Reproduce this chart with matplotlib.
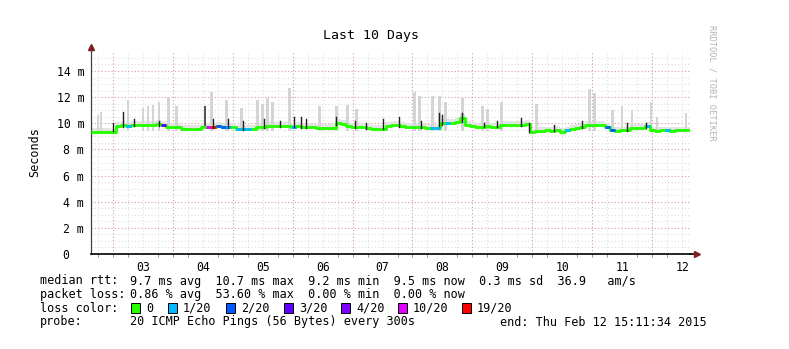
import numpy as np
import matplotlib.pyplot as plt
from matplotlib.patches import Rectangle

W, H = 789, 349
MONO = 'DejaVu Sans Mono'

# time in hours since Mon Feb 02 00:00; graph ends Thu Feb 12 15:11:34 2015
t_end = 240 + 15 + 11 / 60 + 34 / 3600
t_start = t_end - 240
step_h = 2.0

# median rtt (ms), one value every 2 hours
median_ms = [
    9.35, 9.33, 9.35, 9.32, 9.30, 9.82, 9.85, 9.80, 9.85, 9.87,
    9.88, 9.87, 9.85, 9.95, 9.90, 9.74, 9.74, 9.70, 9.60, 9.56,
    9.55, 9.60, 9.70, 9.75, 9.72, 9.78, 9.75, 9.70, 9.72, 9.60,
    9.55, 9.57, 9.60, 9.72, 9.74, 9.78, 9.80, 9.80, 9.78, 9.80,
    9.75, 9.80, 9.74, 9.72, 9.68, 9.62, 9.62, 9.62, 9.63, 10.00,
    9.98, 9.78, 9.75, 9.72, 9.74, 9.65, 9.60, 9.58, 9.60, 9.80,
    9.85, 9.85, 9.78, 9.74, 9.72, 9.72, 9.75, 9.66, 9.62, 9.62,
    10.00, 10.00, 10.05, 10.10, 10.40, 9.85, 9.80, 9.75, 9.74, 9.80,
    9.74, 9.74, 9.86, 9.87, 9.86, 9.88, 9.87, 9.95, 9.30, 9.40,
    9.43, 9.45, 9.42, 9.50, 9.35, 9.45, 9.55, 9.62, 9.70, 9.87,
    9.87, 9.86, 9.87, 9.75, 9.50, 9.43, 9.45, 9.50, 9.62, 9.62,
    9.65, 9.80, 9.45, 9.43, 9.45, 9.45, 9.43, 9.45, 9.45, 9.45,
    9.45,
]
# sample index -> lost pings (of 20)
loss_at = {7: 1, 14: 3, 23: 10, 24: 19, 25: 2, 26: 2, 27: 1, 29: 1, 30: 1,
           31: 1, 40: 1, 68: 1, 69: 1, 71: 1, 95: 1, 103: 2, 104: 2,
           111: 1, 115: 1}

# short median peaks (hours after start, ms)
peak_h = [8.8, 12.8, 17.2, 27.2, 48.8, 54.8, 60.8, 69.2, 75.6, 81.2, 84.0,
          86.0, 98.0, 105.6, 110.0, 116.8, 123.6, 132.4, 139.6, 140.8,
          148.8, 157.6, 162.8, 172.4, 175.6, 185.6, 196.8, 214.8, 222.4]
peak_ms = [10.05, 10.86, 10.3, 10.2, 10.3, 10.36, 10.2, 10.3, 10.2, 10.5,
           10.5, 10.36, 10.5, 10.2, 10.0, 10.3, 10.5, 10.2, 10.8, 10.6,
           10.8, 10.0, 10.2, 10.4, 10.0, 9.9, 10.2, 10.0, 10.0]

# smoke (ping spread) tops (hours after start, ms)
smoke_h = [2.8, 4.0, 14.8, 20.8, 22.8, 24.8, 27.2, 31.2, 34.4, 48.4, 54.4,
           60.4, 66.8, 68.8, 70.8, 72.8, 79.6, 91.6, 98.4, 102.8, 106.4,
           129.6, 131.6, 136.8, 139.6, 142.0, 148.8, 156.8, 158.8, 164.4,
           178.4, 199.6, 201.6, 208.8, 212.8, 216.8, 224.4, 226.8, 238.4]
smoke_ms = [10.6, 10.9, 11.8, 11.2, 11.3, 11.4, 11.6, 12.0, 11.3, 12.4, 11.8,
            11.2, 11.8, 11.5, 11.9, 11.6, 12.7, 11.3, 11.3, 11.4, 11.1,
            12.4, 12.1, 12.1, 12.1, 11.6, 11.9, 11.3, 11.1, 11.6,
            11.5, 12.6, 12.3, 11.0, 11.3, 11.0, 11.6, 10.5, 10.8]

# high-loss burst
burst_h, burst_lo, burst_hi = 45.6, 9.8, 11.3

loss_colors = {0: '#26ff00', 1: '#00b8ff', 2: '#0059ff', 3: '#5e00ff',
               4: '#7e00ff', 10: '#dd00ff', 19: '#ff0000'}
loss_labels = ['0', '1/20', '2/20', '3/20', '4/20', '10/20', '19/20']

y_ticks = [0, 2, 4, 6, 8, 10, 12, 14]
day_labels = ['03', '04', '05', '06', '07', '08', '09', '10', '11', '12']

fig = plt.figure(figsize=(W / 100, H / 100), dpi=100)
x0, x1, y0 = 91, 690, 254
ymax = 15.5
ppm = 13.07
ytop = y0 - ymax * ppm
ax = fig.add_axes([x0 / W, 1 - y0 / H, (x1 - x0) / W, (y0 - ytop) / H])
ax.set_xlim(t_start, t_end)
ax.set_ylim(0, ymax)

# grid
minor_c = '#dedede'
major_c = '#d89a9a'
for v in np.arange(0.5, ymax, 0.5):
    if v % 2:
        ax.axhline(v, color=minor_c, lw=0.8, ls=(0, (1, 2)), zorder=0)
for v in y_ticks[1:]:
    ax.axhline(v, color=major_c, lw=0.8, ls=(0, (1, 2)), zorder=0)
for h in range(18, 258, 6):
    c = major_c if h % 24 == 0 else minor_c
    ax.axvline(h, color=c, lw=0.8, ls=(0, (1, 2)), zorder=0)

t = t_start + step_h * np.arange(len(median_ms))
med = np.array(median_ms)

ax.fill_between(t, med, med + 0.3, step='post', color='#e4e4e4', lw=0, zorder=1)
ax.bar([t_start + h for h in smoke_h], [s - 9.4 for s in smoke_ms], bottom=9.4,
       width=1.1, color='#d4d4d4', lw=0, zorder=1)
ax.bar([t_start + burst_h], [burst_hi - burst_lo], bottom=burst_lo, width=1.0,
       color='#555555', lw=0, zorder=2)

# thin median peaks
base = np.interp([t_start + h for h in peak_h], t, med)
for h, b, p in zip(peak_h, base, peak_ms):
    ax.plot([t_start + h, t_start + h], [b - 0.1, p], color='#202020',
            lw=1.0, zorder=4)

ax.plot(t, med, drawstyle='steps-post', color=loss_colors[0], lw=2.1,
        zorder=3, solid_capstyle='butt')
for i, lv in loss_at.items():
    ax.plot([t[i], t[i] + step_h], [med[i], med[i]], color=loss_colors[lv],
            lw=2.1, zorder=3, solid_capstyle='butt')

# axes
for s in ['top', 'right']:
    ax.spines[s].set_visible(False)
ax.spines['left'].set_color('#404040')
ax.spines['bottom'].set_color('#000000')
ax.spines['left'].set_linewidth(0.9)
ax.spines['bottom'].set_linewidth(1.2)
ax.plot([t_start, t_start], [ymax, 15.75], color='#404040', lw=0.9, clip_on=False)
ax.plot([t_end, t_end + 2.4], [0, 0], color='#000000', lw=1.2, clip_on=False)
ax.plot([t_start], [15.85], marker='^', color='#7f1f1f', ms=4, clip_on=False)
ax.plot([t_end + 2.8], [0], marker='>', color='#7f1f1f', ms=4, clip_on=False)

ax.set_yticks(y_ticks)
ax.set_yticklabels(['0  '] + ['%d m' % v for v in y_ticks[1:]],
                   family=MONO, fontsize=8.3)
ax.set_xticks([36 + 24 * k for k in range(len(day_labels))])
ax.set_xticklabels(day_labels, family=MONO, fontsize=8.3)
ax.set_xticks(range(18, 258, 6), minor=True)
ax.tick_params(axis='both', which='major', length=0, pad=5)
ax.tick_params(axis='x', which='minor', length=2, color='#808080')
ax.set_facecolor('white')

def ftxt(x, y, s, **kw):
    kw.setdefault('family', MONO)
    kw.setdefault('fontsize', 8.5)
    kw.setdefault('va', 'center')
    fig.text(x / W, 1 - y / H, s, **kw)

ftxt(371, 35, 'Last 10 Days', fontsize=9.5, ha='center')
ftxt(35, 152, 'Seconds', rotation=90, ha='center')
ftxt(712, 25, 'RRDTOOL / TOBI OETIKER', rotation=270, ha='center', va='top',
     fontsize=6.2, color='#b4b4b4')

ftxt(40, 281, 'median rtt:')
ftxt(130, 281, '9.7 ms avg  10.7 ms max  9.2 ms min  9.5 ms now  0.3 ms sd  36.9   am/s')
ftxt(40, 294.5, 'packet loss:')
ftxt(130, 294.5, '0.86 % avg  53.60 % max  0.00 % min  0.00 % now')
ftxt(40, 308, 'loss color:')
sq_x = [131, 168, 226, 284, 341, 398, 462]
for x, lv, lab in zip(sq_x, loss_colors, loss_labels):
    fig.patches.append(Rectangle((x / W, 1 - 313 / H), 9 / W, 10 / H,
                                 transform=fig.transFigure, facecolor=loss_colors[lv],
                                 edgecolor='black', lw=0.7))
    ftxt(x + 15, 308, lab)
ftxt(40, 322, 'probe:')
ftxt(130, 322, '20 ICMP Echo Pings (56 Bytes) every 300s')
ftxt(500, 322, 'end: Thu Feb 12 15:11:34 2015')

fig.savefig('out.png', dpi=100)
